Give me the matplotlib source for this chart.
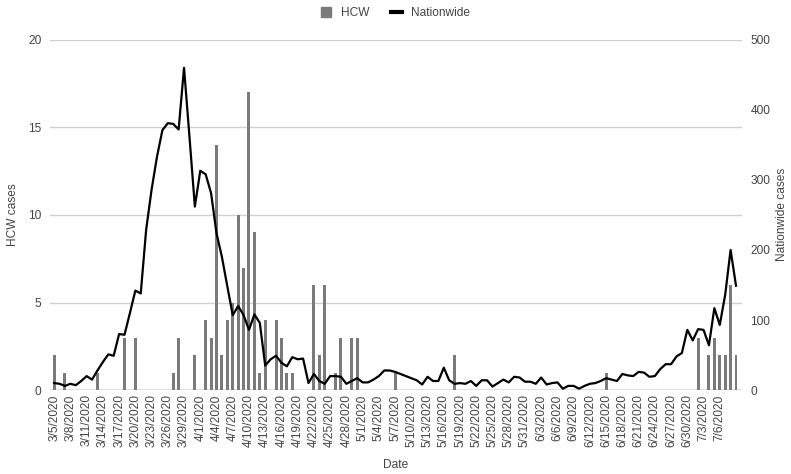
import numpy as np
import pandas as pd
import matplotlib
matplotlib.use("Agg")
import matplotlib.pyplot as plt
from matplotlib.patches import Patch
from matplotlib.lines import Line2D

plt.rcParams['font.family'] = ['Liberation Sans', 'DejaVu Sans']

# daily dates, 3/5/2020 .. 7/9/2020
dates = pd.date_range("2020-03-05", "2020-07-09", freq="D")

# HCW cases (only days with cases)
hcw_dates = ["2020-03-05", "2020-03-07", "2020-03-13", "2020-03-18", "2020-03-20",
             "2020-03-27", "2020-03-28", "2020-03-31", "2020-04-02", "2020-04-03",
             "2020-04-04", "2020-04-05", "2020-04-06", "2020-04-07", "2020-04-08",
             "2020-04-09", "2020-04-10", "2020-04-11", "2020-04-12", "2020-04-13",
             "2020-04-15", "2020-04-16", "2020-04-17", "2020-04-18", "2020-04-22",
             "2020-04-23", "2020-04-24", "2020-04-26", "2020-04-27", "2020-04-29",
             "2020-04-30", "2020-05-07", "2020-05-18", "2020-06-15", "2020-07-02",
             "2020-07-04", "2020-07-05", "2020-07-06", "2020-07-07", "2020-07-08",
             "2020-07-09"]
hcw_counts = [2, 1, 1, 3, 3,
              1, 3, 2, 4, 3,
              14, 2, 4, 5, 10,
              7, 17, 9, 1, 4,
              4, 3, 1, 1, 6,
              2, 6, 1, 3, 3,
              3, 1, 2, 1, 3,
              2, 3, 2, 2, 6,
              2]

# nationwide daily cases
nationwide = [10, 9, 6, 9, 7, 13, 20, 15, 28, 40,
              51, 49, 80, 79, 110, 142, 138, 229, 286, 333,
              371, 381, 380, 372, 460, 362, 262, 313, 308, 281,
              224, 190, 148, 107, 120, 107, 86, 108, 96, 35,
              44, 49, 39, 34, 47, 44, 45, 10, 23, 13,
              9, 20, 20, 19, 9, 13, 17, 11, 11, 15,
              20, 28, 28, 26, 23, 20, 17, 14, 8, 19,
              13, 13, 32, 14, 9, 10, 9, 13, 6, 14,
              14, 5, 10, 15, 11, 19, 18, 12, 12, 9,
              18, 8, 10, 11, 2, 6, 6, 2, 6, 9,
              10, 13, 17, 15, 13, 23, 21, 20, 26, 25,
              19, 20, 30, 37, 37, 48, 53, 86, 71, 87,
              86, 64, 117, 93, 136, 200, 149]

day = np.arange(len(dates))
hcw_day = [(pd.Timestamp(d) - dates[0]).days for d in hcw_dates]

txt = '#444444'
fig = plt.figure(figsize=(7.91, 4.74), dpi=100)
ax = fig.add_axes([0.063, 0.177, 0.875, 0.739])
ax2 = ax.twinx()

ax.bar(hcw_day, hcw_counts, width=0.55, color='#7a7a7a', zorder=2)
ax2.plot(day, nationwide, color='black', lw=1.6, zorder=3)

ax.set_ylim(0, 20)
ax.set_yticks([0, 5, 10, 15, 20])
ax2.set_ylim(0, 500)
ax2.set_yticks([0, 100, 200, 300, 400, 500])
ax.set_xlim(-0.8, 127.1)

# tick every 3 days, last label shown is 7/6
tick_dates = dates[:-1:3]
ax.set_xticks(day[:-1:3])
ax.set_xticklabels([f"{d.month}/{d.day}/{d.year}" for d in tick_dates],
                   rotation=90, fontsize=8.6, color=txt)

ax.grid(axis='y', color='#d0d0d0', lw=1, zorder=0)
ax.set_axisbelow(True)
for a in (ax, ax2):
    for s in ('top', 'right', 'left', 'bottom'):
        a.spines[s].set_visible(False)
    a.tick_params(axis='y', length=0, labelsize=8.6, labelcolor=txt, pad=6)
ax.axhline(0, color='#888888', lw=1, zorder=4)
ax.tick_params(axis='x', length=0, pad=3)

fig.text(0.016, 0.547, 'HCW cases', rotation=90, ha='center', va='center',
         fontsize=8.6, color=txt)
fig.text(0.988, 0.547, 'Nationwide cases', rotation=90, ha='center', va='center',
         fontsize=8.6, color=txt)
fig.text(0.5, 0.019, 'Date', ha='center', va='center', fontsize=8.6, color=txt)

handles = [Patch(color='#7a7a7a'), Line2D([0], [0], color='black', lw=3)]
fig.legend(handles, ['HCW', 'Nationwide'], loc='center', bbox_to_anchor=(0.5, 0.972),
           ncol=2, frameon=False, fontsize=8.6, labelcolor=txt,
           handlelength=0.9, handleheight=0.9, columnspacing=1.8)

fig.savefig('out.png', dpi=100)
